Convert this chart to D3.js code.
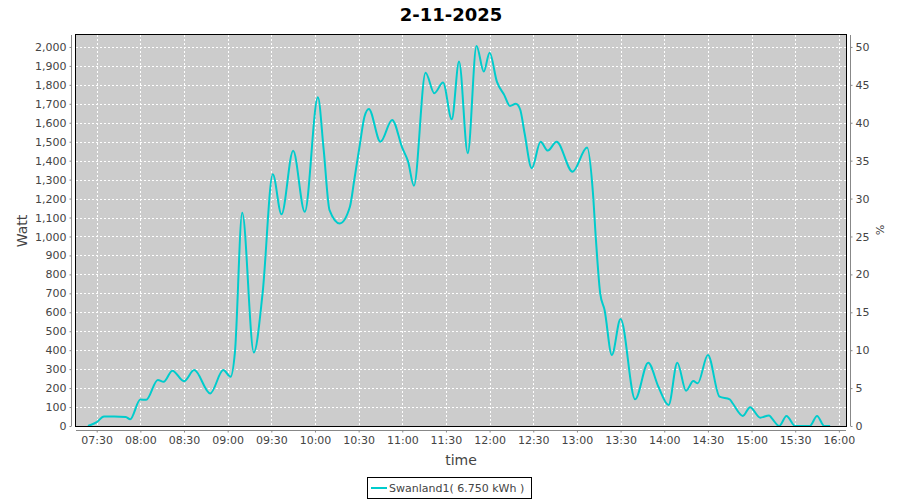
<!DOCTYPE html>
<html>
<head>
<meta charset="utf-8">
<script src="https://cdn.jsdelivr.net/npm/d3@7"></script>
<style>
  html, body { margin: 0; padding: 0; background: #ffffff; }
  svg { display: block; font-family: "DejaVu Sans", sans-serif; }
</style>
</head>
<body>
<svg id="chart" width="900" height="500"></svg>
<script>
// ---- data ----
const chartTitle = "2-11-2025";
const seriesName = "Swanland1( 6.750 kWh )";
const times = [
  "07:24","07:30","07:35","07:42","07:50","07:53","08:00","08:04","08:12","08:16",
  "08:22","08:30","08:37","08:48","08:57","09:02","09:05","09:10","09:18","09:24",
  "09:31","09:37","09:45","09:53","10:02","10:06","10:10","10:17","10:24","10:27",
  "10:31","10:34","10:37","10:45","10:53","11:00","11:04","11:08","11:16","11:22",
  "11:28","11:34","11:39","11:45","11:51","11:56","12:00","12:05","12:10","12:14",
  "12:18","12:21","12:24","12:29","12:35","12:40","12:46","12:57","13:07","13:11",
  "13:13","13:16","13:19","13:24","13:30","13:40","13:49","13:56","14:03","14:09",
  "14:15","14:20","14:23","14:30","14:38","14:45","14:47","14:54","14:59","15:06",
  "15:12","15:14","15:19","15:24","15:30","15:40","15:45","15:50","15:54"
];
const watts = [
  0, 20, 50, 50, 48, 35, 140, 138, 243, 233,
  292, 236, 295, 172, 295, 260, 390, 1125, 388, 700,
  1328, 1117, 1452, 1130, 1734, 1456, 1139, 1069, 1157, 1298,
  1493, 1632, 1673, 1500, 1615, 1467, 1395, 1268, 1864, 1756,
  1812, 1618, 1923, 1439, 2005, 1870, 1970, 1817, 1747, 1689,
  1700, 1670, 1546, 1360, 1500, 1453, 1500, 1342, 1469, 1230,
  990, 700, 612, 375, 565, 141, 334, 207, 111, 334,
  186, 237, 225, 375, 155, 141, 120, 53, 99, 44,
  56, 40, 0, 53, 0, 0, 53, 0, 0
];
const xTickLabels = ["07:30","08:00","08:30","09:00","09:30","10:00","10:30","11:00","11:30",
  "12:00","12:30","13:00","13:30","14:00","14:30","15:00","15:30","16:00"];
const leftTicks = [0,100,200,300,400,500,600,700,800,900,1000,1100,1200,1300,1400,1500,1600,1700,1800,1900,2000];
const rightTicks = [0,5,10,15,20,25,30,35,40,45,50];
const xDomain = ["07:15:47", "16:04:54"];
const wattMax = 2063;
const wattsPerPercent = 40;

// ---- helpers ----
const parse = s => {
  const p = s.split(":").map(Number);
  return new Date(2025, 10, 2, p[0], p[1], p[2] || 0);
};
const data = times.map((t, i) => ({ t: parse(t), v: watts[i] }));

// ---- layout ----
const svg = d3.select("#chart");
const plot = { x0: 76, x1: 846, y0: 35, y1: 426 };
const colLine = "#00cccc";
const txt = "#444444";
const axisCol = "#888888";

const x = d3.scaleTime().domain(xDomain.map(parse)).range([plot.x0, plot.x1]);
const y = d3.scaleLinear().domain([0, wattMax]).range([plot.y1, plot.y0]);
const y2 = d3.scaleLinear().domain([0, wattMax / wattsPerPercent]).range([plot.y1, plot.y0]);
const xTicks = xTickLabels.map(parse);

// plot background
svg.append("rect")
  .attr("x", plot.x0).attr("y", plot.y0)
  .attr("width", plot.x1 - plot.x0).attr("height", plot.y1 - plot.y0)
  .attr("fill", "#cccccc");

// gridlines
const grid = svg.append("g").attr("stroke", "#ffffff").attr("stroke-width", 1)
  .attr("stroke-dasharray", "2,2").attr("shape-rendering", "crispEdges");
leftTicks.forEach(v => {
  grid.append("line").attr("x1", plot.x0).attr("x2", plot.x1)
    .attr("y1", Math.round(y(v)) + 0.5).attr("y2", Math.round(y(v)) + 0.5);
});
xTicks.forEach(t => {
  grid.append("line").attr("y1", plot.y0).attr("y2", plot.y1)
    .attr("x1", Math.round(x(t)) + 0.5).attr("x2", Math.round(x(t)) + 0.5);
});

// clip
svg.append("clipPath").attr("id", "clip").append("rect")
  .attr("x", plot.x0).attr("y", plot.y0)
  .attr("width", plot.x1 - plot.x0).attr("height", plot.y1 - plot.y0);

// series line
const line = d3.line().x(d => x(d.t)).y(d => y(d.v)).curve(d3.curveMonotoneX);
svg.append("path").datum(data)
  .attr("clip-path", "url(#clip)")
  .attr("fill", "none").attr("stroke", colLine).attr("stroke-width", 2)
  .attr("stroke-linejoin", "round")
  .attr("d", line);

// plot border
svg.append("rect")
  .attr("x", plot.x0 - 0.5).attr("y", plot.y0 - 0.5)
  .attr("width", plot.x1 - plot.x0 + 1).attr("height", plot.y1 - plot.y0 + 1)
  .attr("fill", "none").attr("stroke", "#000000").attr("stroke-width", 1);

// axes
function styleAxis(g) {
  g.selectAll("path").attr("stroke", axisCol);
  g.selectAll("line").attr("stroke", axisCol);
  g.selectAll("text").attr("fill", txt).attr("font-size", "11px")
    .attr("font-family", "DejaVu Sans, sans-serif");
}
const leftAxis = svg.append("g").attr("transform", "translate(71.5,0)")
  .call(d3.axisLeft(y).tickValues(leftTicks).tickSize(2).tickSizeOuter(0).tickPadding(3)
    .tickFormat(d3.format(",")));
styleAxis(leftAxis);
leftAxis.select(".domain").attr("d", `M0,${plot.y0}V${plot.y1}`);

const rightAxis = svg.append("g").attr("transform", "translate(850.5,0)")
  .call(d3.axisRight(y2).tickValues(rightTicks).tickSize(2).tickSizeOuter(0).tickPadding(3));
styleAxis(rightAxis);
rightAxis.select(".domain").attr("d", `M0,${plot.y0}V${plot.y1}`);

const bottomAxis = svg.append("g").attr("transform", "translate(0,430.5)")
  .call(d3.axisBottom(x).tickValues(xTicks).tickSize(2).tickSizeOuter(0).tickPadding(4)
    .tickFormat(d3.timeFormat("%H:%M")));
styleAxis(bottomAxis);
bottomAxis.select(".domain").attr("d", `M${plot.x0},0H${plot.x1}`);

// title
svg.append("text").attr("x", 451).attr("y", 21).attr("text-anchor", "middle")
  .attr("font-size", "18px").attr("font-weight", "bold").attr("fill", "#000")
  .text(chartTitle);

// axis labels
svg.append("text").attr("transform", "translate(27,231) rotate(-90)")
  .attr("text-anchor", "middle").attr("font-size", "14px").attr("fill", txt).text("Watt");
svg.append("text").attr("x", 461).attr("y", 465).attr("text-anchor", "middle")
  .attr("font-size", "14px").attr("fill", txt).text("time");
svg.append("text").attr("transform", "translate(876,230) rotate(90)")
  .attr("text-anchor", "middle").attr("font-size", "11px").attr("fill", txt).text("%");

// legend
const lg = svg.append("g");
lg.append("rect").attr("x", 367.5).attr("y", 477.5).attr("width", 164).attr("height", 21)
  .attr("fill", "#ffffff").attr("stroke", "#000000").attr("stroke-width", 1);
lg.append("line").attr("x1", 371).attr("x2", 387).attr("y1", 488).attr("y2", 488)
  .attr("stroke", colLine).attr("stroke-width", 2);
lg.append("text").attr("x", 389).attr("y", 492).attr("font-size", "11px").attr("fill", txt)
  .text(seriesName);
</script>
</body>
</html>
